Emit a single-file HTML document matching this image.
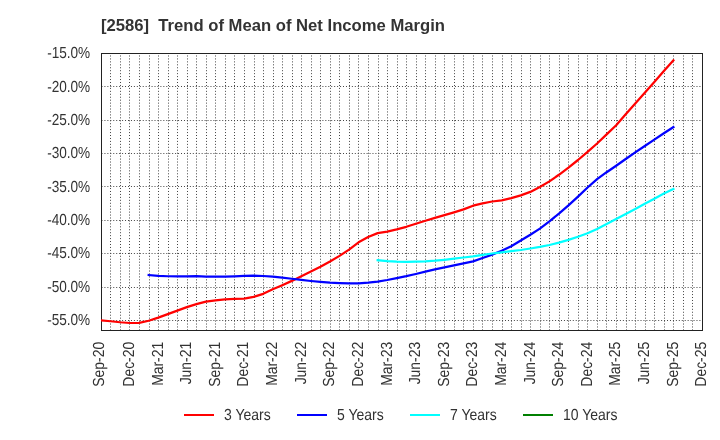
<!DOCTYPE html>
<html><head><meta charset="utf-8"><title>chart</title>
<style>
html,body{margin:0;padding:0;background:#fff;}
body{width:720px;height:440px;overflow:hidden;font-family:"Liberation Sans",sans-serif;}
svg{display:block}
text{font-family:"Liberation Sans",sans-serif;fill:#333}
.tx{opacity:0.999}
</style></head><body>
<svg width="720" height="440" viewBox="0 0 720 440">
<rect x="0" y="0" width="720" height="440" fill="#fff"/>
<g class="tx">
<text x="101" y="31" font-size="16.65" font-weight="bold" fill="#333" xml:space="preserve">[2586]  Trend of Mean of Net Income Margin</text>
<g stroke="#404040" stroke-width="1" stroke-dasharray="0.98,1.9655">
<line x1="110.5" y1="55.5" x2="110.5" y2="330"/>
<line x1="120.5" y1="55.5" x2="120.5" y2="330"/>
<line x1="129.5" y1="55.5" x2="129.5" y2="330"/>
<line x1="139.5" y1="55.5" x2="139.5" y2="330"/>
<line x1="149.5" y1="55.5" x2="149.5" y2="330"/>
<line x1="158.5" y1="55.5" x2="158.5" y2="330"/>
<line x1="168.5" y1="55.5" x2="168.5" y2="330"/>
<line x1="177.5" y1="55.5" x2="177.5" y2="330"/>
<line x1="187.5" y1="55.5" x2="187.5" y2="330"/>
<line x1="196.5" y1="55.5" x2="196.5" y2="330"/>
<line x1="206.5" y1="55.5" x2="206.5" y2="330"/>
<line x1="215.5" y1="55.5" x2="215.5" y2="330"/>
<line x1="225.5" y1="55.5" x2="225.5" y2="330"/>
<line x1="234.5" y1="55.5" x2="234.5" y2="330"/>
<line x1="244.5" y1="55.5" x2="244.5" y2="330"/>
<line x1="254.5" y1="55.5" x2="254.5" y2="330"/>
<line x1="263.5" y1="55.5" x2="263.5" y2="330"/>
<line x1="273.5" y1="55.5" x2="273.5" y2="330"/>
<line x1="282.5" y1="55.5" x2="282.5" y2="330"/>
<line x1="292.5" y1="55.5" x2="292.5" y2="330"/>
<line x1="301.5" y1="55.5" x2="301.5" y2="330"/>
<line x1="311.5" y1="55.5" x2="311.5" y2="330"/>
<line x1="320.5" y1="55.5" x2="320.5" y2="330"/>
<line x1="330.5" y1="55.5" x2="330.5" y2="330"/>
<line x1="339.5" y1="55.5" x2="339.5" y2="330"/>
<line x1="349.5" y1="55.5" x2="349.5" y2="330"/>
<line x1="358.5" y1="55.5" x2="358.5" y2="330"/>
<line x1="368.5" y1="55.5" x2="368.5" y2="330"/>
<line x1="378.5" y1="55.5" x2="378.5" y2="330"/>
<line x1="387.5" y1="55.5" x2="387.5" y2="330"/>
<line x1="397.5" y1="55.5" x2="397.5" y2="330"/>
<line x1="406.5" y1="55.5" x2="406.5" y2="330"/>
<line x1="416.5" y1="55.5" x2="416.5" y2="330"/>
<line x1="425.5" y1="55.5" x2="425.5" y2="330"/>
<line x1="435.5" y1="55.5" x2="435.5" y2="330"/>
<line x1="444.5" y1="55.5" x2="444.5" y2="330"/>
<line x1="454.5" y1="55.5" x2="454.5" y2="330"/>
<line x1="463.5" y1="55.5" x2="463.5" y2="330"/>
<line x1="473.5" y1="55.5" x2="473.5" y2="330"/>
<line x1="482.5" y1="55.5" x2="482.5" y2="330"/>
<line x1="492.5" y1="55.5" x2="492.5" y2="330"/>
<line x1="502.5" y1="55.5" x2="502.5" y2="330"/>
<line x1="511.5" y1="55.5" x2="511.5" y2="330"/>
<line x1="521.5" y1="55.5" x2="521.5" y2="330"/>
<line x1="530.5" y1="55.5" x2="530.5" y2="330"/>
<line x1="540.5" y1="55.5" x2="540.5" y2="330"/>
<line x1="549.5" y1="55.5" x2="549.5" y2="330"/>
<line x1="559.5" y1="55.5" x2="559.5" y2="330"/>
<line x1="568.5" y1="55.5" x2="568.5" y2="330"/>
<line x1="578.5" y1="55.5" x2="578.5" y2="330"/>
<line x1="587.5" y1="55.5" x2="587.5" y2="330"/>
<line x1="597.5" y1="55.5" x2="597.5" y2="330"/>
<line x1="606.5" y1="55.5" x2="606.5" y2="330"/>
<line x1="616.5" y1="55.5" x2="616.5" y2="330"/>
<line x1="626.5" y1="55.5" x2="626.5" y2="330"/>
<line x1="635.5" y1="55.5" x2="635.5" y2="330"/>
<line x1="645.5" y1="55.5" x2="645.5" y2="330"/>
<line x1="654.5" y1="55.5" x2="654.5" y2="330"/>
<line x1="664.5" y1="55.5" x2="664.5" y2="330"/>
<line x1="673.5" y1="55.5" x2="673.5" y2="330"/>
<line x1="683.5" y1="55.5" x2="683.5" y2="330"/>
<line x1="692.5" y1="55.5" x2="692.5" y2="330"/>
<line x1="101.5" y1="86.5" x2="702" y2="86.5"/>
<line x1="101.5" y1="120.5" x2="702" y2="120.5"/>
<line x1="101.5" y1="153.5" x2="702" y2="153.5"/>
<line x1="101.5" y1="186.5" x2="702" y2="186.5"/>
<line x1="101.5" y1="220.5" x2="702" y2="220.5"/>
<line x1="101.5" y1="253.5" x2="702" y2="253.5"/>
<line x1="101.5" y1="287.5" x2="702" y2="287.5"/>
<line x1="101.5" y1="320.5" x2="702" y2="320.5"/>
</g>
<rect x="101.5" y="53.5" width="601" height="277" fill="none" stroke="#222" stroke-width="1" shape-rendering="crispEdges"/>
<text transform="translate(90.2,58.0) rotate(0.03) scale(0.850,1)" font-size="16.0" text-anchor="end">-15.0%</text>
<text transform="translate(90.2,91.6) rotate(0.03) scale(0.850,1)" font-size="16.0" text-anchor="end">-20.0%</text>
<text transform="translate(90.2,125.0) rotate(0.03) scale(0.850,1)" font-size="16.0" text-anchor="end">-25.0%</text>
<text transform="translate(90.2,158.0) rotate(0.03) scale(0.850,1)" font-size="16.0" text-anchor="end">-30.0%</text>
<text transform="translate(90.2,192.0) rotate(0.03) scale(0.850,1)" font-size="16.0" text-anchor="end">-35.0%</text>
<text transform="translate(90.2,225.0) rotate(0.03) scale(0.850,1)" font-size="16.0" text-anchor="end">-40.0%</text>
<text transform="translate(90.2,258.0) rotate(0.03) scale(0.850,1)" font-size="16.0" text-anchor="end">-45.0%</text>
<text transform="translate(90.2,292.0) rotate(0.03) scale(0.850,1)" font-size="16.0" text-anchor="end">-50.0%</text>
<text transform="translate(90.2,325.0) rotate(0.03) scale(0.850,1)" font-size="16.0" text-anchor="end">-55.0%</text>
<text transform="translate(103.8,341.8) rotate(-90.03) scale(0.870,1)" font-size="16.0" text-anchor="end">Sep-20</text>
<text transform="translate(133.9,341.8) rotate(-90.03) scale(0.870,1)" font-size="16.0" text-anchor="end">Dec-20</text>
<text transform="translate(162.5,341.8) rotate(-90.03) scale(0.870,1)" font-size="16.0" text-anchor="end">Mar-21</text>
<text transform="translate(191.1,341.8) rotate(-90.03) scale(0.870,1)" font-size="16.0" text-anchor="end">Jun-21</text>
<text transform="translate(219.7,341.8) rotate(-90.03) scale(0.870,1)" font-size="16.0" text-anchor="end">Sep-21</text>
<text transform="translate(248.4,341.8) rotate(-90.03) scale(0.870,1)" font-size="16.0" text-anchor="end">Dec-21</text>
<text transform="translate(277.0,341.8) rotate(-90.03) scale(0.870,1)" font-size="16.0" text-anchor="end">Mar-22</text>
<text transform="translate(305.6,341.8) rotate(-90.03) scale(0.870,1)" font-size="16.0" text-anchor="end">Jun-22</text>
<text transform="translate(334.2,341.8) rotate(-90.03) scale(0.870,1)" font-size="16.0" text-anchor="end">Sep-22</text>
<text transform="translate(362.8,341.8) rotate(-90.03) scale(0.870,1)" font-size="16.0" text-anchor="end">Dec-22</text>
<text transform="translate(391.5,341.8) rotate(-90.03) scale(0.870,1)" font-size="16.0" text-anchor="end">Mar-23</text>
<text transform="translate(420.1,341.8) rotate(-90.03) scale(0.870,1)" font-size="16.0" text-anchor="end">Jun-23</text>
<text transform="translate(448.7,341.8) rotate(-90.03) scale(0.870,1)" font-size="16.0" text-anchor="end">Sep-23</text>
<text transform="translate(477.3,341.8) rotate(-90.03) scale(0.870,1)" font-size="16.0" text-anchor="end">Dec-23</text>
<text transform="translate(505.9,341.8) rotate(-90.03) scale(0.870,1)" font-size="16.0" text-anchor="end">Mar-24</text>
<text transform="translate(534.6,341.8) rotate(-90.03) scale(0.870,1)" font-size="16.0" text-anchor="end">Jun-24</text>
<text transform="translate(563.2,341.8) rotate(-90.03) scale(0.870,1)" font-size="16.0" text-anchor="end">Sep-24</text>
<text transform="translate(591.8,341.8) rotate(-90.03) scale(0.870,1)" font-size="16.0" text-anchor="end">Dec-24</text>
<text transform="translate(620.4,341.8) rotate(-90.03) scale(0.870,1)" font-size="16.0" text-anchor="end">Mar-25</text>
<text transform="translate(649.0,341.8) rotate(-90.03) scale(0.870,1)" font-size="16.0" text-anchor="end">Jun-25</text>
<text transform="translate(677.7,341.8) rotate(-90.03) scale(0.870,1)" font-size="16.0" text-anchor="end">Sep-25</text>
<text transform="translate(706.3,341.8) rotate(-90.03) scale(0.870,1)" font-size="16.0" text-anchor="end">Dec-25</text>
<clipPath id="pc"><rect x="101" y="53" width="602" height="278"/></clipPath>
<g clip-path="url(#pc)" fill="none" stroke-width="2.25" stroke-linejoin="round" stroke-linecap="square">
<path d="M101.01,320.25 L110.55,321.25 L120.09,322.25 L129.63,323.00 L139.17,322.80 L148.71,320.75 L158.25,317.60 L167.79,314.10 L177.33,310.60 L186.87,307.10 L196.41,304.10 L205.95,301.60 L215.49,300.30 L225.03,299.40 L234.57,298.90 L244.11,298.60 L253.65,296.90 L263.19,293.85 L272.73,289.30 L282.27,285.20 L291.81,280.90 L301.35,276.20 L310.89,271.40 L320.43,266.80 L329.97,261.50 L339.51,255.90 L349.05,249.60 L358.59,242.30 L368.13,237.00 L377.67,233.10 L387.21,231.55 L396.75,229.40 L406.29,226.80 L415.83,223.80 L425.37,220.80 L434.91,217.90 L444.45,215.20 L453.99,212.40 L463.53,209.40 L473.07,205.70 L482.61,203.30 L492.15,201.50 L501.69,200.30 L511.23,198.20 L520.77,195.40 L530.31,191.90 L539.85,187.00 L549.39,181.40 L558.93,174.80 L568.47,167.60 L578.01,160.00 L587.55,151.95 L597.09,143.50 L606.63,134.40 L616.17,125.20 L625.71,114.30 L635.25,103.60 L644.79,92.80 L654.33,82.10 L663.87,71.10 L673.41,60.40" stroke="#ff0000"/>
<path d="M148.71,275.00 L158.25,275.80 L167.79,276.25 L177.33,276.40 L186.87,276.30 L196.41,276.20 L205.95,276.60 L215.49,276.70 L225.03,276.60 L234.57,276.30 L244.11,275.80 L253.65,275.70 L263.19,276.00 L272.73,276.70 L282.27,277.65 L291.81,278.75 L301.35,279.90 L310.89,281.00 L320.43,281.90 L329.97,282.65 L339.51,283.10 L349.05,283.40 L358.59,283.30 L368.13,282.65 L377.67,281.60 L387.21,280.00 L396.75,278.10 L406.29,276.20 L415.83,274.00 L425.37,271.70 L434.91,269.40 L444.45,267.30 L453.99,265.30 L463.53,263.30 L473.07,261.40 L482.61,258.00 L492.15,254.60 L501.69,250.80 L511.23,246.20 L520.77,240.50 L530.31,234.70 L539.85,228.60 L549.39,221.30 L558.93,213.60 L568.47,205.40 L578.01,196.60 L587.55,187.50 L597.09,179.10 L606.63,172.20 L616.17,165.70 L625.71,159.00 L635.25,152.40 L644.79,146.00 L654.33,139.60 L663.87,133.30 L673.41,127.10" stroke="#0000ff"/>
<path d="M377.67,260.20 L387.21,261.10 L396.75,261.60 L406.29,261.80 L415.83,261.60 L425.37,261.30 L434.91,260.70 L444.45,259.80 L453.99,258.70 L463.53,257.50 L473.07,256.45 L482.61,254.90 L492.15,253.50 L501.69,252.40 L511.23,251.20 L520.77,250.00 L530.31,248.50 L539.85,246.95 L549.39,245.00 L558.93,242.60 L568.47,239.90 L578.01,236.70 L587.55,233.30 L597.09,229.00 L606.63,224.00 L616.17,219.00 L625.71,214.00 L635.25,208.90 L644.79,203.70 L654.33,198.70 L663.87,193.60 L673.41,189.00" stroke="#00ffff"/>
</g>
<line x1="184" y1="415" x2="214" y2="415" stroke="#ff0000" stroke-width="2"/>
<text transform="translate(224.0,420) rotate(0.03) scale(0.875,1)" font-size="16.0">3 Years</text>
<line x1="297" y1="415" x2="327" y2="415" stroke="#0000ff" stroke-width="2"/>
<text transform="translate(337.0,420) rotate(0.03) scale(0.875,1)" font-size="16.0">5 Years</text>
<line x1="410" y1="415" x2="440" y2="415" stroke="#00ffff" stroke-width="2"/>
<text transform="translate(450.0,420) rotate(0.03) scale(0.875,1)" font-size="16.0">7 Years</text>
<line x1="523" y1="415" x2="553" y2="415" stroke="#008000" stroke-width="2"/>
<text transform="translate(563.0,420) rotate(0.03) scale(0.875,1)" font-size="16.0">10 Years</text>
</g>
</svg></body></html>
